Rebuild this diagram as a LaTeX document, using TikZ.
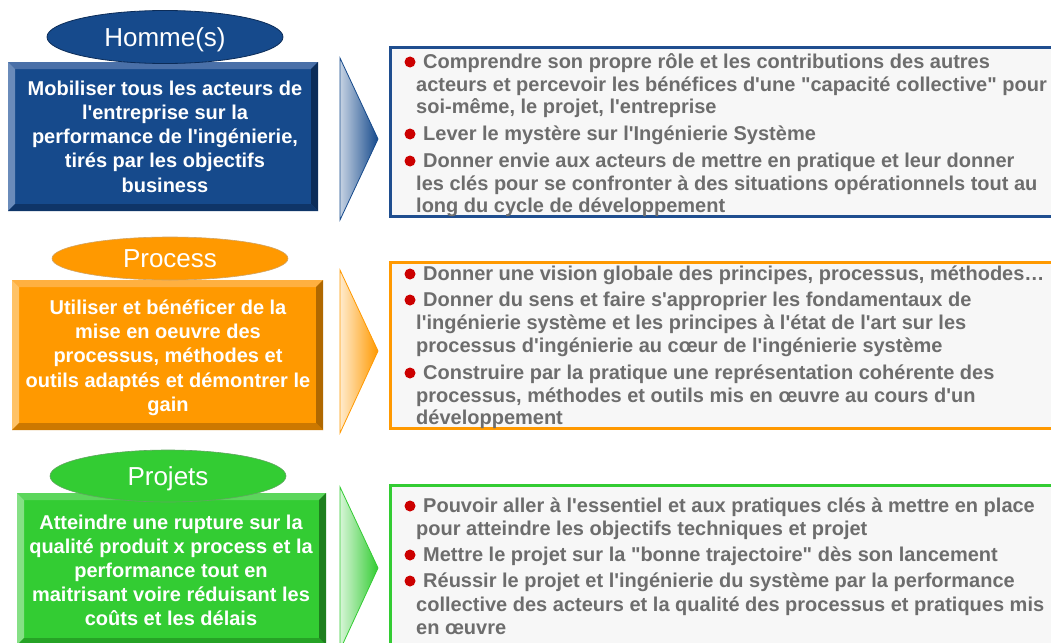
\documentclass[tikz,border=0pt]{standalone}
\usepackage{fontspec}
\setmainfont{Liberation Sans}[Ligatures=TeXOff]
\usetikzlibrary{shapes.geometric}
\definecolor{blmain}{HTML}{164A8C}
\definecolor{bltop}{HTML}{4A70A8}
\definecolor{blleft}{HTML}{6A8BBA}
\definecolor{blright}{HTML}{0C2C58}
\definecolor{blbot}{HTML}{0F3568}
\definecolor{ormain}{HTML}{FF9900}
\definecolor{ortop}{HTML}{FFB040}
\definecolor{orleft}{HTML}{FFC266}
\definecolor{orright}{HTML}{B06800}
\definecolor{orbot}{HTML}{CC7800}
\definecolor{grmain}{HTML}{33CC33}
\definecolor{grtop}{HTML}{5CD65C}
\definecolor{grleft}{HTML}{85E085}
\definecolor{grright}{HTML}{1E7F1E}
\definecolor{grbot}{HTML}{26A326}
\definecolor{blborder}{HTML}{1F4E8F}
\definecolor{boxfill}{HTML}{F7F7F7}
\definecolor{txtgray}{HTML}{6D6D6D}
\definecolor{bulred}{HTML}{CC0000}
\newcommand\bevbox[5]{%
 \fill[#5main] (#1,#2) rectangle (#3,#4);
 \fill[#5top] (#1,#2) -- (#3,#2) -- ({#3-7},{#2+7}) -- ({#1+7},{#2+7}) -- cycle;
 \fill[#5left] (#1,#2) -- ({#1+7},{#2+7}) -- ({#1+7},{#4-7}) -- (#1,#4) -- cycle;
 \fill[#5right] (#3,#2) -- (#3,#4) -- ({#3-7},{#4-7}) -- ({#3-7},{#2+7}) -- cycle;
 \fill[#5bot] (#1,#4) -- (#3,#4) -- ({#3-7},{#4-7}) -- ({#1+7},{#4-7}) -- cycle;
}
\begin{document}
\begin{tikzpicture}[x=1pt,y=-1pt,
  lt/.style={font=\fontsize{20}{22}\selectfont\bfseries, text=white, inner sep=0, anchor=base},
  rt/.style={font=\fontsize{20}{22}\selectfont\bfseries, text=txtgray, inner sep=0, anchor=base west},
  bul/.style={circle, fill=bulred, inner sep=0, minimum size=11},
  ell/.style={ellipse, inner sep=0, minimum width=236, text depth=0pt, font=\fontsize{26}{26}\selectfont, text=white},
  rbox/.style={line width=3, fill=boxfill}]
\useasboundingbox (0,0) rectangle (1051,642);
\clip (0,0) rectangle (1051,642);
\fill[white] (0,0) rectangle (1051,642);

% ---------------- Homme(s)
\bevbox{8}{62}{318}{211}{bl}
\node[ell, minimum height=53, fill=blmain, draw=blright, line width=0.8] (homme) at (165,37) {Homme(s)};
\node[lt] (h1) at (165,95) {Mobiliser tous les acteurs de};
\node[lt] (h2) at (165,119) {l'entreprise sur la};
\node[lt] (h3) at (165,143) {performance de l'ingénierie,};
\node[lt] (h4) at (165,167) {tirés par les objectifs};
\node[lt] (h5) at (165,192) {business};
\shade[left color=blmain!25, right color=blmain] (340,58) -- (378,139) -- (340,220) -- cycle;
\draw[blmain, line width=0.8] (340,58) -- (378,139) -- (340,220) -- cycle;
\draw[rbox, draw=blborder] (390,48) rectangle (1070,216);
\node[bul] (hb1) at (410,62) {};
\node[rt] (hr1) at (423,68) {Comprendre son propre rôle et les contributions des autres};
\node[rt] (hr2) at (416,91) {acteurs et percevoir les bénéfices d'une "capacité collective" pour};
\node[rt] (hr3) at (416,113) {soi-même, le projet, l'entreprise};
\node[bul] (hb2) at (410,134) {};
\node[rt] (hr4) at (423,140) {Lever le mystère sur l'Ingénierie Système};
\node[bul] (hb3) at (410,161) {};
\node[rt] (hr5) at (423,167) {Donner envie aux acteurs de mettre en pratique et leur donner};
\node[rt] (hr6) at (416,190) {les clés pour se confronter à des situations opérationnels tout au};
\node[rt] (hr7) at (416,212) {long du cycle de développement};

% ---------------- Process
\bevbox{12}{280}{323}{430}{or}
\node[ell, minimum height=43, fill=ormain, draw=orright!60, line width=0.6] (process) at (170,258.5) {Process};
\node[lt] (p1) at (168,314) {Utiliser et bénéficer de la};
\node[lt] (p2) at (168,338) {mise en oeuvre des};
\node[lt] (p3) at (168,362) {processus, méthodes et};
\node[lt] (p4) at (168,387) {outils adaptés et démontrer le};
\node[lt] (p5) at (168,411) {gain};
\shade[left color=ormain!20, right color=ormain] (340,270) -- (378,351) -- (340,433) -- cycle;
\draw[ormain, line width=0.8] (340,270) -- (378,351) -- (340,433) -- cycle;
\draw[rbox, draw=ormain] (390,262) rectangle (1070,428);
\node[bul] (pb1) at (410,274) {};
\node[rt] (pr1) at (423,280) {Donner une vision globale des principes, processus, méthodes…};
\node[bul] (pb2) at (410,300) {};
\node[rt] (pr2) at (423,306) {Donner du sens et faire s'approprier les fondamentaux de};
\node[rt] (pr3) at (416,329) {l'ingénierie système et les principes à l'état de l'art sur les};
\node[rt] (pr4) at (416,352) {processus d'ingénierie au cœur de l'ingénierie système};
\node[bul] (pb3) at (410,373) {};
\node[rt] (pr5) at (423,379) {Construire par la pratique une représentation cohérente des};
\node[rt] (pr6) at (416,402) {processus, méthodes et outils mis en œuvre au cours d'un};
\node[rt] (pr7) at (416,424) {développement};

% ---------------- Projets
\bevbox{17}{493}{326}{645}{gr}
\node[ell, minimum height=52, fill=grmain, draw=grright!70, line width=0.6] (projets) at (168,476) {Projets};
\node[lt] (g1) at (171,529) {Atteindre une rupture sur la};
\node[lt] (g2) at (171,553) {qualité produit x process et la};
\node[lt] (g3) at (171,577) {performance tout en};
\node[lt] (g4) at (171,601) {maitrisant voire réduisant les};
\node[lt] (g5) at (171,625) {coûts et les délais};
\shade[left color=grmain!20, right color=grmain] (340,487) -- (378,568) -- (340,650) -- cycle;
\draw[grmain, line width=0.8] (340,487) -- (378,568) -- (340,650) -- cycle;
\draw[rbox, draw=grmain] (390,485) rectangle (1070,660);
\node[bul] (gb1) at (410,506) {};
\node[rt] (gr1) at (423,512) {Pouvoir aller à l'essentiel et aux pratiques clés à mettre en place};
\node[rt] (gr2) at (416,535) {pour atteindre les objectifs techniques et projet};
\node[bul] (gb2) at (410,555) {};
\node[rt] (gr3) at (423,561) {Mettre le projet sur la "bonne trajectoire" dès son lancement};
\node[bul] (gb3) at (410,581) {};
\node[rt] (gr4) at (423,587) {Réussir le projet et l'ingénierie du système par la performance};
\node[rt] (gr5) at (416,611) {collective des acteurs et la qualité des processus et pratiques mis};
\node[rt] (gr6) at (416,634) {en œuvre};
\end{tikzpicture}
\end{document}
